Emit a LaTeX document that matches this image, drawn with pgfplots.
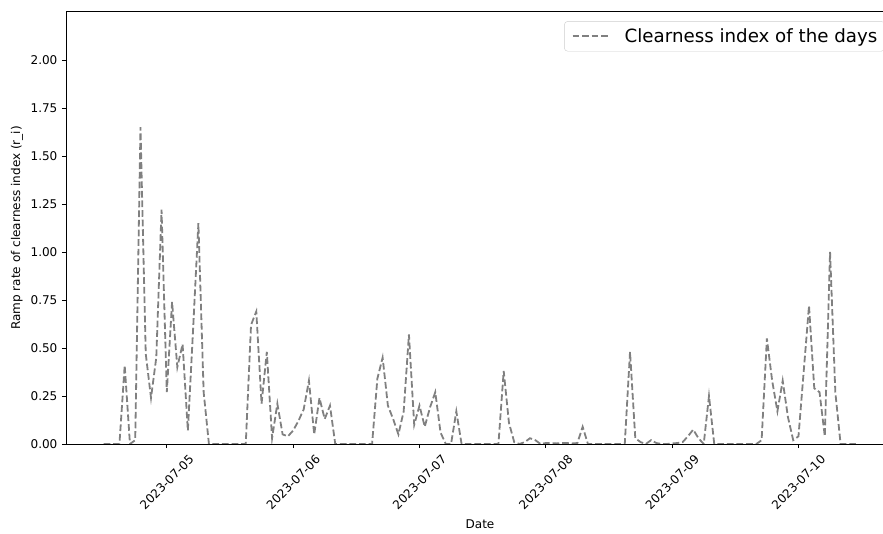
\documentclass[border=0pt]{standalone}
\usepackage{fontspec}
\setmainfont{DejaVu Sans}
\usepackage{pgfplots}
\usepackage{pgfplotstable}
\pgfplotsset{compat=1.18}
\definecolor{linegray}{HTML}{808080}
\definecolor{legframe}{HTML}{CCCCCC}
\pgfplotstableread{
t r
12 0
13 0
14 0
15 0
16 0.41
17 0
18 0.02
19 1.65
20 0.47
21 0.24
22 0.45
23 1.22
24 0.27
25 0.74
26 0.40
27 0.52
28 0.07
29 0.60
30 1.15
31 0.27
32 0
33 0
34 0
35 0
36 0
37 0
38 0
39 0
40 0.62
41 0.69
42 0.21
43 0.48
44 0.03
45 0.21
46 0.05
47 0.04
48 0.07
49 0.12
50 0.18
51 0.33
52 0.05
53 0.24
54 0.13
55 0.20
56 0
57 0
58 0
59 0
60 0
61 0
62 0
63 0
64 0.34
65 0.45
66 0.20
67 0.13
68 0.05
69 0.17
70 0.57
71 0.10
72 0.20
73 0.09
74 0.19
75 0.27
76 0.06
77 0
78 0
79 0.17
80 0
81 0
82 0
83 0
84 0
85 0
86 0
87 0
88 0.38
89 0.11
90 0.01
91 0
92 0.01
93 0.03
94 0.02
95 0
96 0.005
97 0.005
98 0.003
99 0.005
100 0.005
101 0.003
102 0.005
103 0.09
104 0
105 0
106 0
107 0
108 0
109 0
110 0
111 0
112 0.48
113 0.03
114 0.01
115 0
116 0.02
117 0.005
118 0
119 0
120 0.003
121 0.005
122 0.01
123 0.04
124 0.075
125 0.03
126 0
127 0.25
128 0
129 0
130 0
131 0
132 0
133 0
134 0
135 0
136 0
137 0.02
138 0.55
139 0.33
140 0.17
141 0.33
142 0.14
143 0.02
144 0.04
145 0.38
146 0.72
147 0.29
148 0.27
149 0.04
150 1.00
151 0.27
152 0
153 0
154 0
155 0
}\ramptable
\begin{document}
\begin{tikzpicture}[x=1bp,y=1bp]
\useasboundingbox (0,0) rectangle (883,534);
\clip (0,0) rectangle (883,534);
\begin{axis}[
  at={(66bp,90bp)}, anchor=south west,
  scale only axis, width=828bp, height=432bp,
  xmin=4.85, xmax=162.15, ymin=0, ymax=2.25,
  axis line style={line width=0.97bp},
  every tick/.style={line width=0.97bp, black},
  tick align=outside, major tick length=4.2bp,
  xtick pos=lower, ytick pos=left,
  xtick={24,48,72,96,120,144},
  xticklabels={2023-07-05,2023-07-06,2023-07-07,2023-07-08,2023-07-09,2023-07-10},
  ytick={0,0.25,0.5,0.75,1,1.25,1.5,1.75,2},
  /pgf/number format/assume math mode=true,
  yticklabel style={font=\fontsize{12.08}{14}\selectfont, inner sep=0pt, xshift=-4.2bp,
    /pgf/number format/.cd, fixed, fixed zerofill, precision=2},
  xticklabel style={font=\fontsize{12.08}{14}\selectfont, inner sep=0pt, anchor=center, yshift=-34bp, rotate=45},
  xlabel={Date},
  ylabel={Ramp rate of clearness index (r\_i)},
  label style={font=\fontsize{12.08}{14}\selectfont},
  xlabel style={at={(axis description cs:0.5,-0.1852)}, anchor=center},
  ylabel style={at={(axis description cs:-0.0592,0.5)}, anchor=center},
  legend style={at={(axis description cs:1,1)}, anchor=north east, xshift=-9.15bp, yshift=-9.15bp,
    draw=legframe, rounded corners=3.5bp, fill=white, fill opacity=0.8, text opacity=1,
    font=\fontsize{18.3}{21}\selectfont, inner xsep=7.3bp, inner ysep=7.3bp,
    nodes={inner sep=0pt}, column sep=14.6bp},
  legend cell align=left,
  legend image code/.code={\draw[#1, line width=1.8bp, dash pattern=on 6.7bp off 2.9bp] (0bp,0bp) -- (36.6bp,0bp);},
]
\addplot[linegray, line width=1.8bp, dash pattern=on 6.7bp off 2.9bp] table[x=t,y=r] {\ramptable};
\addlegendentry{Clearness index of the days}
\end{axis}
\end{tikzpicture}
\end{document}
